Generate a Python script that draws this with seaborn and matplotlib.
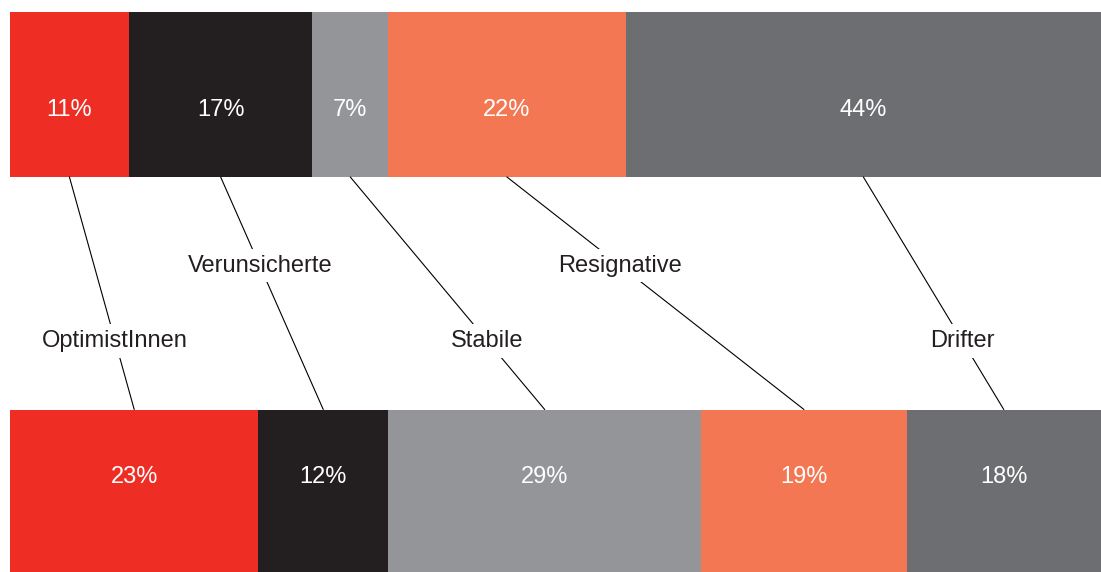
import numpy as np
import pandas as pd
import matplotlib
matplotlib.use("Agg")
import matplotlib.pyplot as plt
import seaborn as sns

# data
groups = ["OptimistInnen", "Verunsicherte", "Stabile", "Resignative", "Drifter"]
top_values = [11, 17, 7, 22, 44]
bottom_values = [23, 12, 29, 19, 18]
rows = ["oben", "unten"]
colors = ["#EE2E24", "#231F20", "#939598", "#F37753", "#6D6E71"]
label_rows = [0.62, 0.431, 0.62, 0.431, 0.62]  # where the label sits on each connector

sns.set_theme(style="white")
plt.rcParams["font.family"] = ["Liberation Sans", "DejaVu Sans"]

vals = np.array([top_values, bottom_values], dtype=float)
cum = vals.cumsum(axis=1)
total = cum[:, -1].max()

fig = plt.figure(figsize=(11.01, 5.72), dpi=100)
ax = fig.add_axes([10 / 1101, 0, 1091 / 1101, 1])

bar_w = 0.415
# stacked bars: draw cumulative totals from the back to the front
for i in reversed(range(len(groups))):
    df = pd.DataFrame({"row": rows, "value": cum[:, i]})
    sns.barplot(data=df, x="value", y="row", orient="h", color=colors[i],
                width=bar_w, saturation=1, ax=ax, linewidth=0)

ax.set_xlim(0, total)
ax.set_ylim(1.2013, -0.2377)
ax.axis("off")

starts = cum - vals
mids = starts + vals / 2

# percent labels sit a bit toward the middle of the chart
text_y = [0.039, 0.962]
for r in range(2):
    for i in range(len(groups)):
        ax.text(mids[r, i], text_y[r], f"{int(vals[r, i])}%", color="white",
                ha="center", va="center", fontsize=17)

y0 = bar_w / 2
y1 = 1 - bar_w / 2
for i, name in enumerate(groups):
    xa, xb = mids[0, i], mids[1, i]
    ax.plot([xa, xb], [y0, y1], color="black", lw=0.8, zorder=3)
    t = (label_rows[i] - y0) / (y1 - y0)
    xl = xa + t * (xb - xa)
    ax.text(xl, label_rows[i], name, ha="center", va="center", fontsize=17,
            color="#231F20", zorder=4,
            bbox=dict(facecolor="white", edgecolor="none", pad=4))

fig.savefig("out.png", dpi=100)
